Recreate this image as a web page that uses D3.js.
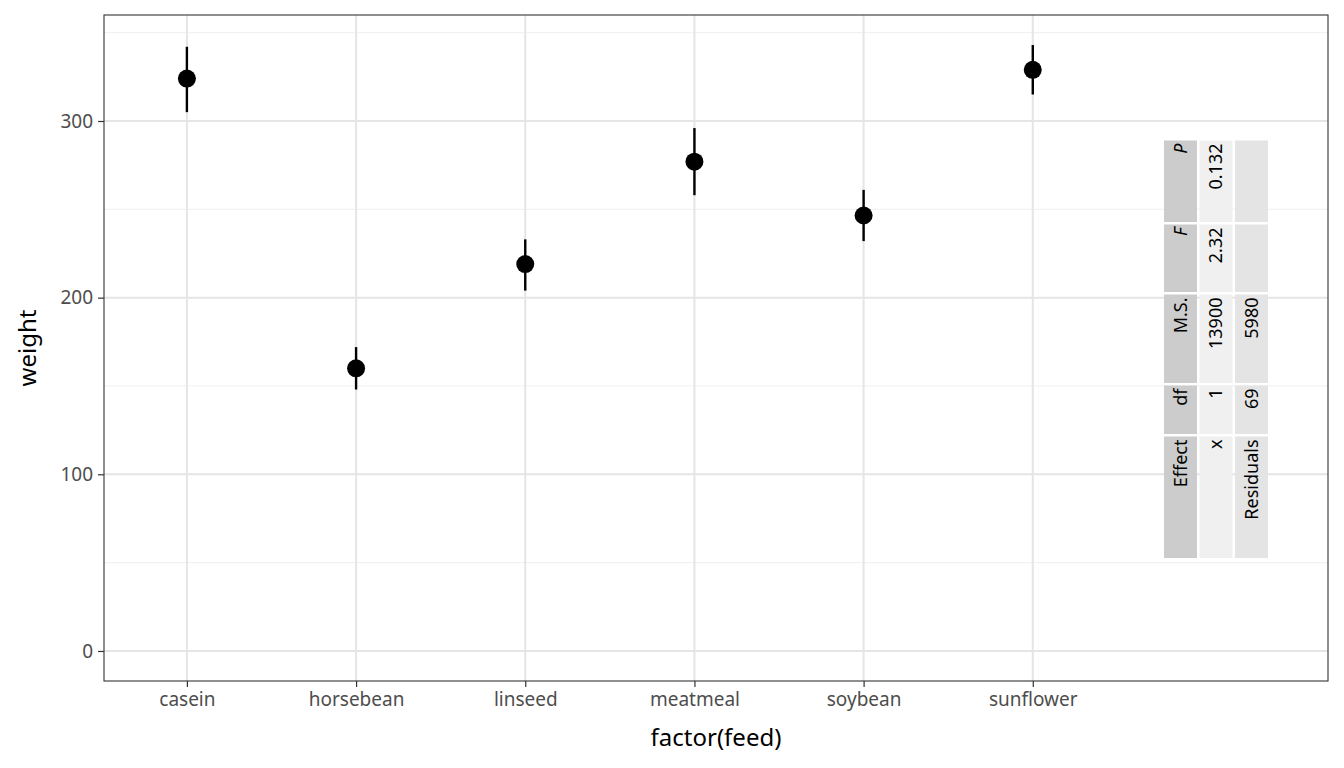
<!DOCTYPE html>
<html><head><meta charset="utf-8">
<script src="https://cdn.jsdelivr.net/npm/d3@7"></script>
<style>body{margin:0;background:#fff;font-family:"Noto Sans","Open Sans",sans-serif}</style>
</head><body>
<script>
const feeds = ['casein','horsebean','linseed','meatmeal','soybean','sunflower'];
const means = [324, 160, 219, 277, 246.5, 329];
const lower = [305, 148, 204, 258, 232, 315];
const upper = [342, 172, 233, 296, 261, 343];
const yTicks = [0, 100, 200, 300];
const yMinor = [50, 150, 250, 350];
const tabHeader = ['Effect', 'df', 'M.S.', 'F', 'P'];
const tabRows = [['x', '1', '13900', '2.32', '0.132'], ['Residuals', '69', '5980', '', '']];
const colWidths = [124, 51, 91, 70, 84];

const W = 1344, H = 768;
const margin = {top:15, right:16, bottom:87, left:104};
const svg = d3.select('body').append('svg').attr('width', W).attr('height', H);

const x = d3.scaleLinear().domain([-0.49, 6.745]).range([margin.left, W - margin.right]);
const y = d3.scaleLinear().domain([-17, 360]).range([H - margin.bottom, margin.top]);

// grid
svg.append('g').selectAll('line').data(yMinor).join('line')
  .attr('x1', margin.left).attr('x2', W - margin.right)
  .attr('y1', d => y(d)).attr('y2', d => y(d))
  .attr('stroke', '#ebebeb').attr('stroke-width', 0.8);
svg.append('g').selectAll('line').data(yTicks).join('line')
  .attr('x1', margin.left).attr('x2', W - margin.right)
  .attr('y1', d => y(d)).attr('y2', d => y(d))
  .attr('stroke', '#e5e5e5').attr('stroke-width', 2);
svg.append('g').selectAll('line').data(feeds).join('line')
  .attr('x1', (d, i) => x(i)).attr('x2', (d, i) => x(i))
  .attr('y1', margin.top).attr('y2', H - margin.bottom)
  .attr('stroke', '#e5e5e5').attr('stroke-width', 2);

// axes
const tickStyle = g => g.selectAll('text').attr('fill', '#4d4d4d')
  .style('font-size', '19px').style('font-family', '"Noto Sans"');
svg.append('g').attr('transform', `translate(${margin.left},0)`)
  .call(d3.axisLeft(y).tickValues(yTicks).tickSize(6).tickPadding(5))
  .call(g => g.select('.domain').remove())
  .call(g => g.selectAll('line').attr('stroke', '#333').attr('stroke-width', 1.2))
  .call(tickStyle);
svg.append('g').attr('transform', `translate(0,${H - margin.bottom})`)
  .call(d3.axisBottom(x).tickValues(d3.range(feeds.length)).tickFormat(i => feeds[i]).tickSize(6).tickPadding(6))
  .call(g => g.select('.domain').remove())
  .call(g => g.selectAll('line').attr('stroke', '#333').attr('stroke-width', 1.2))
  .call(tickStyle);

// panel border
svg.append('rect').attr('x', margin.left).attr('y', margin.top)
  .attr('width', W - margin.left - margin.right).attr('height', H - margin.top - margin.bottom)
  .attr('fill', 'none').attr('stroke', '#333').attr('stroke-width', 1.1);

// error bars + points
svg.append('g').selectAll('line').data(feeds).join('line')
  .attr('x1', (d, i) => x(i)).attr('x2', (d, i) => x(i))
  .attr('y1', (d, i) => y(lower[i])).attr('y2', (d, i) => y(upper[i]))
  .attr('stroke', '#000').attr('stroke-width', 2.4);
svg.append('g').selectAll('circle').data(feeds).join('circle')
  .attr('cx', (d, i) => x(i)).attr('cy', (d, i) => y(means[i])).attr('r', 9).attr('fill', '#000');

// titles
svg.append('text').attr('x', (margin.left + W - margin.right) / 2).attr('y', 746)
  .attr('text-anchor', 'middle').style('font-size', '24px').text('factor(feed)');
svg.append('text').attr('transform', `translate(36,${(margin.top + H - margin.bottom) / 2}) rotate(-90)`)
  .attr('text-anchor', 'middle').style('font-size', '24px').text('weight');

// rotated ANOVA table
const tab = svg.append('g').attr('transform', 'translate(1164,558) rotate(-90)');
const rowFill = ['#cccccc', '#f0f0f0', '#e4e4e4'];
const rowH = 33, gap = 2.5;
const cols = [];
let cx = 0;
colWidths.forEach(w => { cols.push(cx); cx += w; });
const allRows = [tabHeader, ...tabRows];
allRows.forEach((row, r) => {
  row.forEach((txt, c) => {
    const x0 = cols[c], w = colWidths[c] - gap, y0 = r * (rowH + gap);
    tab.append('rect').attr('x', x0).attr('y', y0).attr('width', w).attr('height', rowH).attr('fill', rowFill[r]);
    if (txt) tab.append('text').attr('x', x0 + w - 3).attr('y', y0 + rowH / 2 + 6)
      .attr('text-anchor', 'end').style('font-size', '18px')
      .style('font-style', r === 0 && (txt === 'F' || txt === 'P') ? 'italic' : 'normal')
      .text(txt);
  });
});
</script>
</body></html>
